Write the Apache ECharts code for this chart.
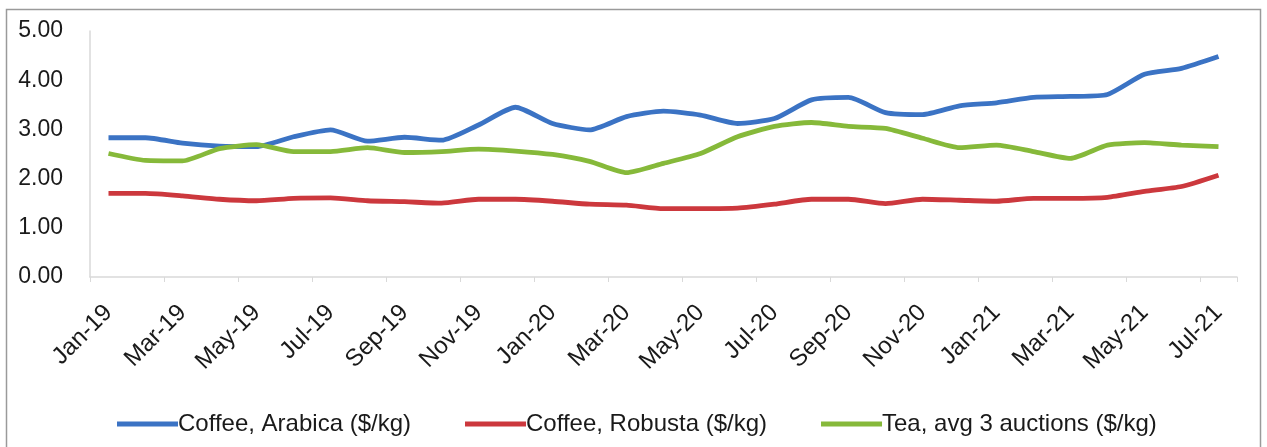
<!DOCTYPE html>
<html>
<head>
<meta charset="utf-8">
<script src="https://cdn.jsdelivr.net/npm/echarts@6/dist/echarts.min.js"></script>
<style>
  html, body { margin: 0; padding: 0; background: #fff; }
  #chart { width: 1267px; height: 447px; }
</style>
</head>
<body>
<div id="chart"></div>
<script>
// Monthly commodity prices, Jan 2019 – Jul 2021 ($/kg)
const months = [
  'Jan-19','Feb-19','Mar-19','Apr-19','May-19','Jun-19','Jul-19','Aug-19','Sep-19','Oct-19','Nov-19','Dec-19',
  'Jan-20','Feb-20','Mar-20','Apr-20','May-20','Jun-20','Jul-20','Aug-20','Sep-20','Oct-20','Nov-20','Dec-20',
  'Jan-21','Feb-21','Mar-21','Apr-21','May-21','Jun-21','Jul-21'
];
const arabica = [
  2.83, 2.83, 2.72, 2.66, 2.65, 2.85, 2.99, 2.76, 2.84, 2.78, 3.09, 3.45,
  3.12, 2.99, 3.26, 3.37, 3.29, 3.12, 3.22, 3.60, 3.65, 3.34, 3.30, 3.48,
  3.54, 3.65, 3.67, 3.71, 4.12, 4.24, 4.48
];
const robusta = [
  1.70, 1.70, 1.65, 1.58, 1.55, 1.60, 1.61, 1.55, 1.53, 1.50, 1.58, 1.58,
  1.54, 1.48, 1.46, 1.39, 1.39, 1.40, 1.48, 1.58, 1.58, 1.49, 1.58, 1.56,
  1.54, 1.60, 1.60, 1.62, 1.74, 1.84, 2.07
];
const tea = [
  2.51, 2.37, 2.36, 2.61, 2.69, 2.55, 2.55, 2.63, 2.53, 2.55, 2.60, 2.56,
  2.49, 2.35, 2.12, 2.31, 2.51, 2.85, 3.06, 3.14, 3.06, 3.02, 2.82, 2.63,
  2.68, 2.55, 2.41, 2.68, 2.73, 2.68, 2.65
];
const seriesNames = ['Coffee, Arabica ($/kg)', 'Coffee, Robusta ($/kg)', 'Tea, avg 3 auctions ($/kg)'];
const yTicks = { min: 0, max: 5, interval: 1 };

const font = "'Liberation Sans', Arial, sans-serif";
const colors = ['#3b73c4', '#cc383d', '#86b93a'];

function line(name, data, color) {
  return {
    name, type: 'line', data,
    smooth: 0.2, symbol: 'none',
    lineStyle: { width: 4.8, color },
    itemStyle: { color }
  };
}

const chart = echarts.init(document.getElementById('chart'), null, { renderer: 'canvas' });
chart.setOption({
  animation: false,
  backgroundColor: '#fff',
  color: colors,
  graphic: [{
    type: 'rect', left: 4, top: 7,
    shape: { width: 1254, height: 460 },
    style: { fill: 'none', stroke: '#9a9a9a', lineWidth: 1.5 },
    silent: true
  }],
  grid: { left: 90, right: 30, top: 31, bottom: 170 },
  xAxis: {
    type: 'category', data: months, boundaryGap: true,
    axisLine: { lineStyle: { color: '#d9d9d9', width: 1.5 } },
    axisTick: { show: true, interval: 1, length: 5, lineStyle: { color: '#d9d9d9' } },
    axisLabel: {
      interval: 1, rotate: 45, margin: 32,
      color: '#1a1a1a', fontFamily: font, fontSize: 24
    }
  },
  yAxis: {
    type: 'value', min: yTicks.min, max: yTicks.max, interval: yTicks.interval,
    axisLine: { show: true, lineStyle: { color: '#d9d9d9', width: 1.5 } },
    axisTick: { show: false },
    splitLine: { show: false },
    axisLabel: {
      margin: 27, color: '#1a1a1a', fontFamily: font, fontSize: 23,
      formatter: v => v.toFixed(2)
    }
  },
  legend: {
    left: 112, top: 407,
    icon: 'rect', itemWidth: 61, itemHeight: 5, itemGap: 54,
    textStyle: { color: '#1a1a1a', fontFamily: font, fontSize: 24, padding: [0, 0, 0, -5] },
    data: seriesNames
  },
  series: [
    line(seriesNames[0], arabica, colors[0]),
    line(seriesNames[1], robusta, colors[1]),
    line(seriesNames[2], tea, colors[2])
  ]
});
</script>
</body>
</html>
